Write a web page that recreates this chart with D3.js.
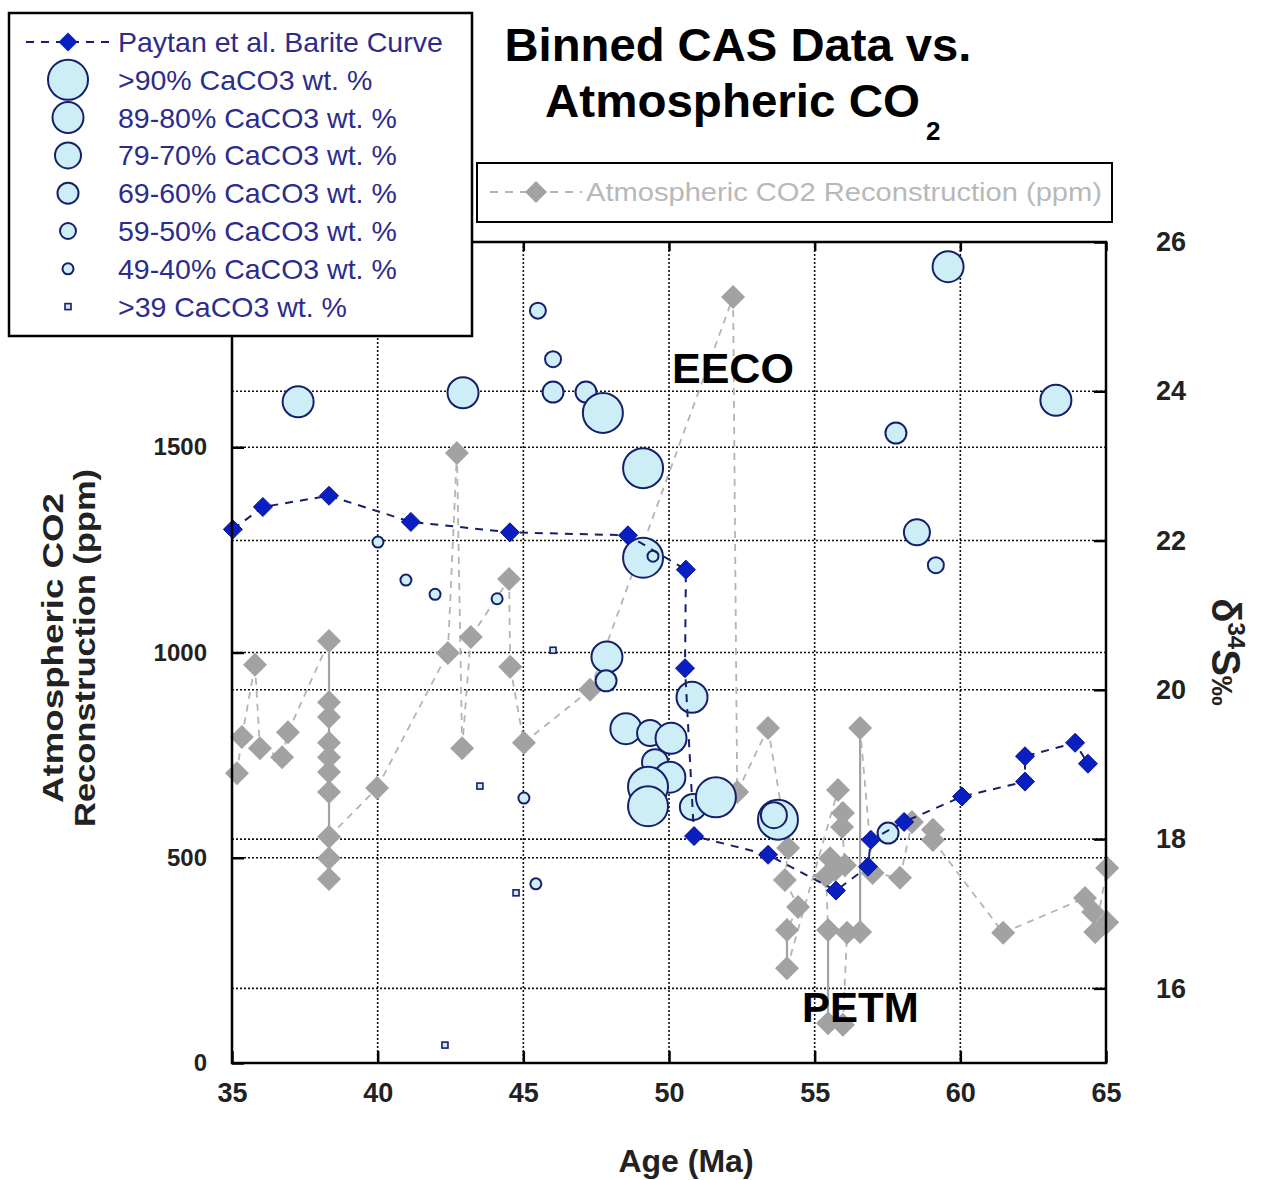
<!DOCTYPE html>
<html><head><meta charset="utf-8">
<script src="https://cdn.jsdelivr.net/npm/d3@7"></script>
<style>body{margin:0;background:#fff}svg{display:block;font-family:"Liberation Sans",Arial,sans-serif}</style>
</head><body>
<svg id="c" width="1277" height="1180"></svg>
<script>
// ---------- DATA ----------
const xTicks = [35, 40, 45, 50, 55, 60, 65];
const co2Ticks = [0, 500, 1000, 1500];
const d34Ticks = [16, 18, 20, 22, 24, 26];

const legendLabels = ["Paytan et al. Barite Curve", ">90% CaCO3 wt. %", "89-80% CaCO3 wt. %",
  "79-70% CaCO3 wt. %", "69-60% CaCO3 wt. %", "59-50% CaCO3 wt. %", "49-40% CaCO3 wt. %", ">39 CaCO3 wt. %"];
const co2Label = "Atmospheric CO2 Reconstruction (ppm)";

// Paytan et al. barite curve (d34S, right axis)
const paytanAge = [35.03, 36.06, 38.33, 41.14, 44.54, 48.59, 50.58, 50.55, 50.86, 53.40, 55.73, 56.83, 56.93, 58.07, 60.06, 62.22, 62.22, 63.94, 64.38];
const paytanD34S = [22.15, 22.45, 22.60, 22.25, 22.11, 22.07, 21.61, 20.29, 18.04, 17.79, 17.31, 17.63, 17.99, 18.23, 18.57, 18.77, 19.11, 19.29, 19.01];

// Binned CAS data (d34S, right axis); class index 0 = >90% ... 6 = >39
const casAge = [37.27, 42.93, 45.50, 46.02, 46.02, 47.15, 47.73, 49.11, 49.11, 49.45, 40.01, 40.97, 41.97, 44.10, 46.02, 47.87, 47.84, 43.51, 45.02, 45.43, 44.75, 42.31,
  59.58, 63.28, 57.79, 58.51, 59.16, 50.79, 50.82, 51.61, 53.74, 53.60, 57.52, 48.52, 49.35, 50.07, 49.52, 50.03, 49.28, 49.28];
const casD34S = [23.86, 23.98, 25.08, 24.43, 23.99, 23.99, 23.71, 22.97, 21.77, 21.79, 21.98, 21.47, 21.28, 21.22, 20.53, 20.44, 20.12, 18.71, 18.55, 17.40, 17.28, 15.24,
  25.67, 23.88, 23.44, 22.11, 21.67, 19.90, 18.43, 18.56, 18.26, 18.32, 18.08, 19.48, 19.42, 19.35, 19.03, 18.83, 18.70, 18.44];
const casClass = [1, 1, 4, 4, 3, 3, 0, 0, 0, 5, 5, 5, 5, 5, 6, 1, 3, 6, 5, 5, 6, 6,
  1, 1, 3, 2, 4, 1, 2, 0, 0, 2, 3, 1, 2, 1, 2, 1, 0, 0];

// Atmospheric CO2 reconstruction (ppm, left axis), in series order
const co2Age = [35.17, 35.34, 35.79, 35.96, 36.72, 36.92,
  38.33, 38.33, 38.33, 38.33, 38.33, 38.33, 38.33, 38.33, 38.33, 38.33,
  39.98, 42.41, 42.72, 42.90, 43.20, 44.51, 44.55, 45.02, 47.29, 52.20, 52.34, 53.40,
  54.09, 53.98, 54.43, 54.05, 54.05,
  55.80, 55.97, 55.94, 56.04, 55.53, 55.70, 55.39, 55.46, 55.46, 55.97, 56.11, 56.56, 56.56,
  56.99, 57.93, 58.34, 59.06, 59.06, 61.47, 64.28, 64.56, 65.04, 64.63, 65.04];
const co2Ppm = [706, 794, 970, 767, 745, 806,
  1028, 879, 843, 780, 745, 709, 660, 448, 499, 551,
  670, 999, 1486, 767, 1038, 1179, 965, 780, 909, 1866, 660, 816,
  524, 446, 380, 324, 231,
  665, 609, 575, 482, 499, 470, 455, 324, 97, 93, 317, 319, 816,
  463, 451, 587, 568, 543, 317, 402, 368, 343, 319, 475];

// ---------- DRAW ----------
const svg = d3.select("#c");
const L = 232, R = 1106, T = 242, B = 1063;
const x = d3.scaleLinear().domain([35, 65]).range([L, R]);
const yL = d3.scaleLinear().domain([0, 2000]).range([B, T]);
const yR = d3.scaleLinear().domain([15, 26]).range([B, T]);
const radius = d3.scaleOrdinal().domain([0,1,2,3,4,5]).range([20, 15.5, 13, 10.5, 8, 5.5]);

const NAVY = "#15206a", BLUE = "#0a1fc2", FILL = "#cdeef6", GRAYD = "#a2a2a2", GRAYL = "#b4b4b4";
const diamond = (cx, cy, h) => `M${cx},${cy-h}L${cx+h},${cy}L${cx},${cy+h}L${cx-h},${cy}Z`;

svg.append("rect").attr("x", 0).attr("y", 0).attr("width", 1277).attr("height", 1180).attr("fill", "#fff");

// grid
const grid = svg.append("g").attr("stroke", "#111").attr("stroke-width", 1.6).attr("stroke-dasharray", "2,2");
[40, 45, 50, 55, 60].forEach(v => grid.append("line").attr("x1", x(v)).attr("x2", x(v)).attr("y1", T).attr("y2", B));
[500, 1000, 1500].forEach(v => grid.append("line").attr("x1", L).attr("x2", R).attr("y1", yL(v)).attr("y2", yL(v)));
[16, 18, 20, 22, 24].forEach(v => grid.append("line").attr("x1", L).attr("x2", R).attr("y1", yR(v)).attr("y2", yR(v)));

// axes
const tickFont = size => g => g.selectAll("text").attr("font-size", size).attr("font-weight", "bold").attr("fill", "#222")
  .attr("font-family", "'Liberation Sans',Arial,sans-serif");
const axStyle = g => { g.select(".domain").remove(); g.selectAll("line").attr("stroke", "#000").attr("stroke-width", 2.5); };
svg.append("g").attr("transform", `translate(${L},0)`)
  .call(d3.axisLeft(yL).tickValues(co2Ticks).tickSizeInner(-12).tickSizeOuter(0).tickPadding(25).tickFormat(d3.format("d")))
  .call(axStyle).call(tickFont(24));
svg.append("g").attr("transform", `translate(${R},0)`)
  .call(d3.axisRight(yR).tickValues(d34Ticks).tickSizeInner(-12).tickSizeOuter(0).tickPadding(50).tickFormat(d3.format("d")))
  .call(axStyle).call(tickFont(27));
svg.append("g").attr("transform", `translate(0,${B})`)
  .call(d3.axisBottom(x).tickValues(xTicks).tickSizeInner(-12).tickSizeOuter(0).tickPadding(20).tickFormat(d3.format("d")))
  .call(axStyle).call(tickFont(27));
svg.append("g").attr("transform", `translate(0,${T})`)
  .call(d3.axisTop(x).tickValues(xTicks).tickSizeInner(-9).tickSizeOuter(0).tickFormat(""))
  .call(axStyle);

// CO2 reconstruction lines
const co2 = co2Age.map((a, i) => [a, co2Ppm[i]]);
const lg = svg.append("g");
for (let i = 0; i < co2.length - 1; i++) {
  const same = co2[i][0] === co2[i + 1][0];
  lg.append("line").attr("x1", x(co2[i][0])).attr("y1", yL(co2[i][1]))
    .attr("x2", x(co2[i + 1][0])).attr("y2", yL(co2[i + 1][1]))
    .attr("stroke", same ? GRAYD : GRAYL).attr("stroke-width", same ? 2.2 : 1.8)
    .attr("stroke-dasharray", same ? null : "7,6");
}
svg.append("g").selectAll("path").data(co2).join("path")
  .attr("d", d => diamond(x(d[0]), yL(d[1]), 12)).attr("fill", GRAYD);

// CAS bubbles
const cas = casAge.map((a, i) => ({ a, v: casD34S[i], c: casClass[i] }));
const cg = svg.append("g");
cas.filter(d => d.c < 6).forEach(d => {
  cg.append("circle").attr("cx", x(d.a)).attr("cy", yR(d.v)).attr("r", radius(d.c))
    .attr("fill", FILL).attr("stroke", NAVY).attr("stroke-width", 2);
});
cas.filter(d => d.c === 6).forEach(d => {
  cg.append("rect").attr("x", x(d.a) - 3).attr("y", yR(d.v) - 3).attr("width", 6).attr("height", 6)
    .attr("fill", "#cfe6f0").attr("stroke", NAVY).attr("stroke-width", 1.6);
});

// Paytan curve
const pay = paytanAge.map((a, i) => [a, paytanD34S[i]]);
svg.append("path").datum(pay).attr("d", d3.line().x(d => x(d[0])).y(d => yR(d[1])))
  .attr("fill", "none").attr("stroke", NAVY).attr("stroke-width", 2).attr("stroke-dasharray", "8,7");
svg.append("g").selectAll("path").data(pay).join("path")
  .attr("d", d => diamond(x(d[0]), yR(d[1]), 9.5)).attr("fill", BLUE).attr("stroke", "#0a1690").attr("stroke-width", 1);

// frame
svg.append("rect").attr("x", L).attr("y", T).attr("width", R - L).attr("height", B - T)
  .attr("fill", "none").attr("stroke", "#000").attr("stroke-width", 2.5);

// annotations
svg.append("text").attr("x", 672).attr("y", 383).text("EECO").attr("font-size", 43).attr("font-weight", "bold").attr("fill", "#000");
svg.append("text").attr("x", 802).attr("y", 1022).text("PETM").attr("font-size", 42).attr("font-weight", "bold").attr("fill", "#000");

// titles
svg.append("text").attr("x", 738).attr("y", 61).attr("text-anchor", "middle").attr("font-size", 46).attr("font-weight", "bold")
  .attr("textLength", 467).attr("lengthAdjust", "spacingAndGlyphs").text("Binned CAS Data vs.");
svg.append("text").attr("x", 545).attr("y", 117).attr("font-size", 46).attr("font-weight", "bold")
  .attr("textLength", 375).attr("lengthAdjust", "spacingAndGlyphs").text("Atmospheric CO");
svg.append("text").attr("x", 926).attr("y", 140).attr("font-size", 26).attr("font-weight", "bold").text("2");

svg.append("text").attr("x", 686).attr("y", 1172).attr("text-anchor", "middle").attr("font-size", 32).attr("font-weight", "bold")
  .attr("fill", "#222").text("Age (Ma)");

const yt = svg.append("g").attr("transform", "translate(63,648) rotate(-90)").attr("font-weight", "bold").attr("fill", "#222")
  .attr("text-anchor", "middle").attr("font-size", 30);
yt.append("text").attr("y", 0).attr("textLength", 310).attr("lengthAdjust", "spacingAndGlyphs").text("Atmospheric CO2");
yt.append("text").attr("y", 32).attr("textLength", 358).attr("lengthAdjust", "spacingAndGlyphs").text("Reconstruction (ppm)");

const rt = svg.append("text").attr("transform", "translate(1212,652) rotate(90)").attr("text-anchor", "middle")
  .attr("font-weight", "bold").attr("fill", "#222").attr("font-size", 40);
rt.append("tspan").text("δ");
rt.append("tspan").attr("font-size", 24).attr("dy", -16).text("34");
rt.append("tspan").attr("dy", 16).text("S");
rt.append("tspan").attr("font-size", 30).text("‰");

// main legend
const lgd = svg.append("g");
lgd.append("rect").attr("x", 9).attr("y", 13).attr("width", 463).attr("height", 323).attr("fill", "#fff").attr("stroke", "#000").attr("stroke-width", 2.5);
const rowY = i => 42 + i * 37.8;
lgd.append("line").attr("x1", 26).attr("x2", 110).attr("y1", rowY(0)).attr("y2", rowY(0))
  .attr("stroke", NAVY).attr("stroke-width", 2).attr("stroke-dasharray", "8,7");
lgd.append("path").attr("d", diamond(68, rowY(0), 9.5)).attr("fill", BLUE);
for (let k = 1; k <= 6; k++) {
  lgd.append("circle").attr("cx", 68).attr("cy", rowY(k)).attr("r", radius(k - 1)).attr("fill", FILL).attr("stroke", NAVY).attr("stroke-width", 2);
}
lgd.append("rect").attr("x", 65).attr("y", rowY(7) - 3).attr("width", 6).attr("height", 6).attr("fill", "#cfe6f0").attr("stroke", NAVY).attr("stroke-width", 1.6);
lgd.selectAll("text.l").data(legendLabels).join("text").attr("class", "l")
  .attr("x", 118).attr("y", (d, i) => rowY(i) + 10).attr("font-size", 28.5).attr("fill", "#2c2c8c").text(d => d);

// CO2 legend
const g2 = svg.append("g");
g2.append("rect").attr("x", 477).attr("y", 163).attr("width", 635).attr("height", 59).attr("fill", "#fff").attr("stroke", "#000").attr("stroke-width", 2);
g2.append("line").attr("x1", 490).attr("x2", 582).attr("y1", 192).attr("y2", 192).attr("stroke", GRAYL).attr("stroke-width", 2).attr("stroke-dasharray", "8,7");
g2.append("path").attr("d", diamond(536, 192, 11)).attr("fill", GRAYD);
g2.append("text").attr("x", 586).attr("y", 201).attr("font-size", 26).attr("fill", "#b8b8b8")
  .attr("textLength", 516).attr("lengthAdjust", "spacingAndGlyphs").text(co2Label);
</script>
</body></html>
